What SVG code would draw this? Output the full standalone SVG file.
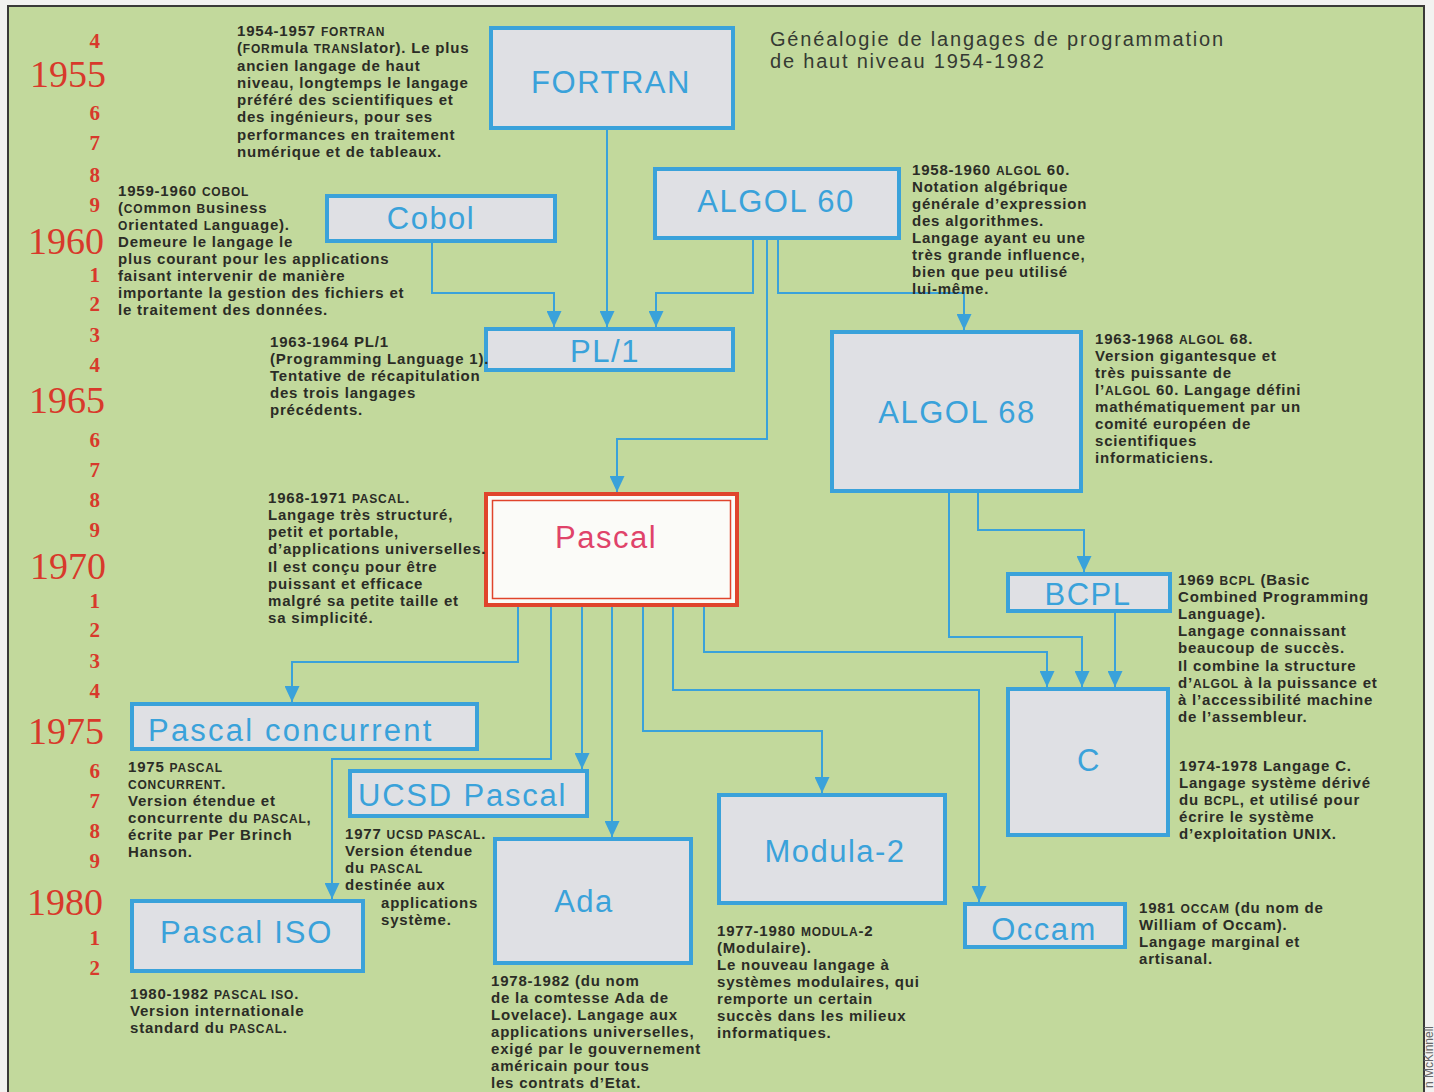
<svg xmlns="http://www.w3.org/2000/svg" width="1434" height="1092" viewBox="0 0 1434 1092">
<defs>
<style>
.bg{fill:#c2d99c}
.node rect{fill:#dfe0e4;stroke:#3aa2da;stroke-width:4}
.lbl{font-family:"Liberation Sans",Arial,sans-serif;font-size:31px;fill:#3aa2da;letter-spacing:1.5px;text-anchor:middle}
.lbls{font-family:"Liberation Sans",Arial,sans-serif;font-size:31px;fill:#3aa2da;letter-spacing:1.8px}
.desc{font-family:"Liberation Sans",Arial,sans-serif;font-size:15px;font-weight:bold;fill:#2b2c26;letter-spacing:0.8px}
.sc{font-size:12px}
.yr{font-family:"Liberation Serif","Times New Roman",serif;font-size:38px;fill:#d8392b;text-anchor:end}
.dg{font-family:"Liberation Serif","Times New Roman",serif;font-size:21px;font-weight:bold;fill:#d8392b;text-anchor:end}
.title{font-family:"Liberation Sans",Arial,sans-serif;font-size:20px;fill:#353a33;letter-spacing:1.8px}
.conn path{fill:none;stroke:#3aa2da;stroke-width:2;marker-end:url(#arr)}
</style>
<marker id="arr" markerUnits="userSpaceOnUse" markerWidth="17" markerHeight="15" refX="16" refY="7.5" orient="auto">
<path d="M0,0 L16,7.5 L0,15 z" fill="#3aa2da"/>
</marker>
</defs>
<rect x="0" y="0" width="1434" height="1092" fill="#f2f2f0"/>
<rect class="bg" x="8" y="6" width="1416" height="1090"/>
<path d="M8,1092 V6 H1424 V1092" fill="none" stroke="#3a3a38" stroke-width="2"/>

<g id="years">
<text class="dg" x="100" y="48">4</text>
<text class="yr" x="106" y="87">1955</text>
<text class="dg" x="100" y="120">6</text>
<text class="dg" x="100" y="150">7</text>
<text class="dg" x="100" y="182">8</text>
<text class="dg" x="100" y="212">9</text>
<text class="yr" x="104" y="254">1960</text>
<text class="dg" x="100" y="282">1</text>
<text class="dg" x="100" y="311">2</text>
<text class="dg" x="100" y="342">3</text>
<text class="dg" x="100" y="372">4</text>
<text class="yr" x="105" y="413">1965</text>
<text class="dg" x="100" y="447">6</text>
<text class="dg" x="100" y="477">7</text>
<text class="dg" x="100" y="507">8</text>
<text class="dg" x="100" y="537">9</text>
<text class="yr" x="106" y="579">1970</text>
<text class="dg" x="100" y="608">1</text>
<text class="dg" x="100" y="637">2</text>
<text class="dg" x="100" y="668">3</text>
<text class="dg" x="100" y="698">4</text>
<text class="yr" x="104" y="744">1975</text>
<text class="dg" x="100" y="778">6</text>
<text class="dg" x="100" y="808">7</text>
<text class="dg" x="100" y="838">8</text>
<text class="dg" x="100" y="868">9</text>
<text class="yr" x="103" y="915">1980</text>
<text class="dg" x="100" y="945">1</text>
<text class="dg" x="100" y="975">2</text>
</g>

<g id="title">
<text class="title" x="770" y="46">Généalogie de langages de programmation</text>
<text class="title" x="770" y="68">de haut niveau 1954-1982</text>
</g>

<g class="conn" id="connectors">
<path d="M607,130 V327"/>
<path d="M432,243 V293 H554 V327"/>
<path d="M753,240 V293 H656 V327"/>
<path d="M767,240 V439 H617 V492"/>
<path d="M778,240 V293 H964 V330"/>
<path d="M978,493 V530 H1084 V572"/>
<path d="M949,493 V637 H1082 V687"/>
<path d="M1115,613 V687"/>
<path d="M704,607 V652 H1047 V687"/>
<path d="M673,607 V690 H979 V902"/>
<path d="M643,607 V731 H822 V793"/>
<path d="M612,607 V837"/>
<path d="M582,607 V769"/>
<path d="M551,607 V759 H332 V899"/>
<path d="M518,607 V662 H292 V702"/>
</g>

<g id="n-fortran" class="node">
<rect x="491" y="28" width="242" height="100"/>
<text class="lbl" x="611" y="93">FORTRAN</text>
<text class="desc">
<tspan x="237" y="36">1954-1957 <tspan class="sc">FORTRAN</tspan></tspan>
<tspan x="237" y="53">(<tspan class="sc">FOR</tspan>mula <tspan class="sc">TRANS</tspan>lator). Le plus</tspan>
<tspan x="237" y="71">ancien langage de haut</tspan>
<tspan x="237" y="88">niveau, longtemps le langage</tspan>
<tspan x="237" y="105">préféré des scientifiques et</tspan>
<tspan x="237" y="122">des ingénieurs, pour ses</tspan>
<tspan x="237" y="140">performances en traitement</tspan>
<tspan x="237" y="157">numérique et de tableaux.</tspan>
</text>
</g>

<g id="n-cobol" class="node">
<rect x="327" y="196" width="228" height="45"/>
<text class="lbl" x="431" y="229">Cobol</text>
<text class="desc">
<tspan x="118" y="196">1959-1960 <tspan class="sc">COBOL</tspan></tspan>
<tspan x="118" y="213">(<tspan class="sc">CO</tspan>mmon <tspan class="sc">B</tspan>usiness</tspan>
<tspan x="118" y="230"><tspan class="sc">O</tspan>rientated <tspan class="sc">L</tspan>anguage).</tspan>
<tspan x="118" y="247">Demeure le langage le</tspan>
<tspan x="118" y="264">plus courant pour les applications</tspan>
<tspan x="118" y="281">faisant intervenir de manière</tspan>
<tspan x="118" y="298">importante la gestion des fichiers et</tspan>
<tspan x="118" y="315">le traitement des données.</tspan>
</text>
</g>

<g id="n-algol60" class="node">
<rect x="655" y="169" width="244" height="69"/>
<text class="lbl" x="776" y="212">ALGOL 60</text>
<text class="desc">
<tspan x="912" y="175">1958-1960 <tspan class="sc">ALGOL</tspan> 60.</tspan>
<tspan x="912" y="192">Notation algébrique</tspan>
<tspan x="912" y="209">générale d’expression</tspan>
<tspan x="912" y="226">des algorithmes.</tspan>
<tspan x="912" y="243">Langage ayant eu une</tspan>
<tspan x="912" y="260">très grande influence,</tspan>
<tspan x="912" y="277">bien que peu utilisé</tspan>
<tspan x="912" y="294">lui-même.</tspan>
</text>
</g>

<g id="n-pl1" class="node">
<rect x="486" y="329" width="247" height="41"/>
<text class="lbl" x="605" y="362">PL/1</text>
<text class="desc">
<tspan x="270" y="347">1963-1964 PL/1</tspan>
<tspan x="270" y="364">(Programming Language 1).</tspan>
<tspan x="270" y="381">Tentative de récapitulation</tspan>
<tspan x="270" y="398">des trois langages</tspan>
<tspan x="270" y="415">précédents.</tspan>
</text>
</g>

<g id="n-algol68" class="node">
<rect x="832" y="332" width="249" height="159"/>
<text class="lbl" x="957" y="423">ALGOL 68</text>
<text class="desc">
<tspan x="1095" y="344">1963-1968 <tspan class="sc">ALGOL</tspan> 68.</tspan>
<tspan x="1095" y="361">Version gigantesque et</tspan>
<tspan x="1095" y="378">très puissante de</tspan>
<tspan x="1095" y="395">l’<tspan class="sc">ALGOL</tspan> 60. Langage défini</tspan>
<tspan x="1095" y="412">mathématiquement par un</tspan>
<tspan x="1095" y="429">comité européen de</tspan>
<tspan x="1095" y="446">scientifiques</tspan>
<tspan x="1095" y="463">informaticiens.</tspan>
</text>
</g>

<g id="n-pascal">
<rect x="486" y="494" width="251" height="111" fill="#fbfbf8" stroke="#e0442c" stroke-width="4"/>
<rect x="492.5" y="500.5" width="238" height="98" fill="none" stroke="#e0442c" stroke-width="1.5"/>
<text class="lbl" x="606" y="548" style="fill:#e0436a">Pascal</text>
<text class="desc">
<tspan x="268" y="503">1968-1971 <tspan class="sc">PASCAL</tspan>.</tspan>
<tspan x="268" y="520">Langage très structuré,</tspan>
<tspan x="268" y="537">petit et portable,</tspan>
<tspan x="268" y="554">d’applications universelles.</tspan>
<tspan x="268" y="572">Il est conçu pour être</tspan>
<tspan x="268" y="589">puissant et efficace</tspan>
<tspan x="268" y="606">malgré sa petite taille et</tspan>
<tspan x="268" y="623">sa simplicité.</tspan>
</text>
</g>

<g id="n-bcpl" class="node">
<rect x="1008" y="574" width="162" height="37"/>
<text class="lbl" x="1088" y="605">BCPL</text>
<text class="desc">
<tspan x="1178" y="585">1969 <tspan class="sc">BCPL</tspan> (Basic</tspan>
<tspan x="1178" y="602">Combined Programming</tspan>
<tspan x="1178" y="619">Language).</tspan>
<tspan x="1178" y="636">Langage connaissant</tspan>
<tspan x="1178" y="653">beaucoup de succès.</tspan>
<tspan x="1178" y="671">Il combine la structure</tspan>
<tspan x="1178" y="688">d’<tspan class="sc">ALGOL</tspan> à la puissance et</tspan>
<tspan x="1178" y="705">à l’accessibilité machine</tspan>
<tspan x="1178" y="722">de l’assembleur.</tspan>
</text>
</g>

<g id="n-c" class="node">
<rect x="1008" y="689" width="160" height="146"/>
<text class="lbl" x="1089" y="771">C</text>
<text class="desc">
<tspan x="1179" y="771">1974-1978 Langage C.</tspan>
<tspan x="1179" y="788">Langage système dérivé</tspan>
<tspan x="1179" y="805">du <tspan class="sc">BCPL</tspan>, et utilisé pour</tspan>
<tspan x="1179" y="822">écrire le système</tspan>
<tspan x="1179" y="839">d’exploitation UNIX.</tspan>
</text>
</g>

<g id="n-concurrent" class="node">
<rect x="132" y="704" width="345" height="45"/>
<text class="lbls" x="148" y="741" style="letter-spacing:2.2px">Pascal concurrent</text>
<text class="desc">
<tspan x="128" y="772">1975 <tspan class="sc">PASCAL</tspan></tspan>
<tspan x="128" y="789"><tspan class="sc">CONCURRENT</tspan>.</tspan>
<tspan x="128" y="806">Version étendue et</tspan>
<tspan x="128" y="823">concurrente du <tspan class="sc">PASCAL</tspan>,</tspan>
<tspan x="128" y="840">écrite par Per Brinch</tspan>
<tspan x="128" y="857">Hanson.</tspan>
</text>
</g>

<g id="n-ucsd" class="node">
<rect x="350" y="771" width="237" height="45"/>
<text class="lbls" x="358" y="806">UCSD Pascal</text>
<text class="desc">
<tspan x="345" y="839">1977 <tspan class="sc">UCSD PASCAL</tspan>.</tspan>
<tspan x="345" y="856">Version étendue</tspan>
<tspan x="345" y="873">du <tspan class="sc">PASCAL</tspan></tspan>
<tspan x="345" y="890">destinée aux</tspan>
<tspan x="381" y="908">applications</tspan>
<tspan x="381" y="925">système.</tspan>
</text>
</g>

<g id="n-iso" class="node">
<rect x="132" y="901" width="231" height="70"/>
<text class="lbls" x="160" y="943">Pascal ISO</text>
<text class="desc">
<tspan x="130" y="999">1980-1982 <tspan class="sc">PASCAL ISO</tspan>.</tspan>
<tspan x="130" y="1016">Version internationale</tspan>
<tspan x="130" y="1033">standard du <tspan class="sc">PASCAL</tspan>.</tspan>
</text>
</g>

<g id="n-ada" class="node">
<rect x="495" y="839" width="196" height="124"/>
<text class="lbl" x="584" y="912">Ada</text>
<text class="desc">
<tspan x="491" y="986">1978-1982 (du nom</tspan>
<tspan x="491" y="1003">de la comtesse Ada de</tspan>
<tspan x="491" y="1020">Lovelace). Langage aux</tspan>
<tspan x="491" y="1037">applications universelles,</tspan>
<tspan x="491" y="1054">exigé par le gouvernement</tspan>
<tspan x="491" y="1071">américain pour tous</tspan>
<tspan x="491" y="1088">les contrats d’Etat.</tspan>
</text>
</g>

<g id="n-modula2" class="node">
<rect x="719" y="795" width="226" height="108"/>
<text class="lbl" x="835" y="862">Modula-2</text>
<text class="desc">
<tspan x="717" y="936">1977-1980 <tspan class="sc">MODULA</tspan>-2</tspan>
<tspan x="717" y="953">(Modulaire).</tspan>
<tspan x="717" y="970">Le nouveau langage à</tspan>
<tspan x="717" y="987">systèmes modulaires, qui</tspan>
<tspan x="717" y="1004">remporte un certain</tspan>
<tspan x="717" y="1021">succès dans les milieux</tspan>
<tspan x="717" y="1038">informatiques.</tspan>
</text>
</g>

<g id="n-occam" class="node">
<rect x="965" y="904" width="160" height="43"/>
<text class="lbl" x="1044" y="940">Occam</text>
<text class="desc">
<tspan x="1139" y="913">1981 <tspan class="sc">OCCAM</tspan> (du nom de</tspan>
<tspan x="1139" y="930">William of Occam).</tspan>
<tspan x="1139" y="947">Langage marginal et</tspan>
<tspan x="1139" y="964">artisanal.</tspan>
</text>
</g>

<text transform="translate(1433,1088) rotate(-90)" font-family="'Liberation Sans',Arial,sans-serif" font-size="12" fill="#666">n McKinnell</text>
</svg>
